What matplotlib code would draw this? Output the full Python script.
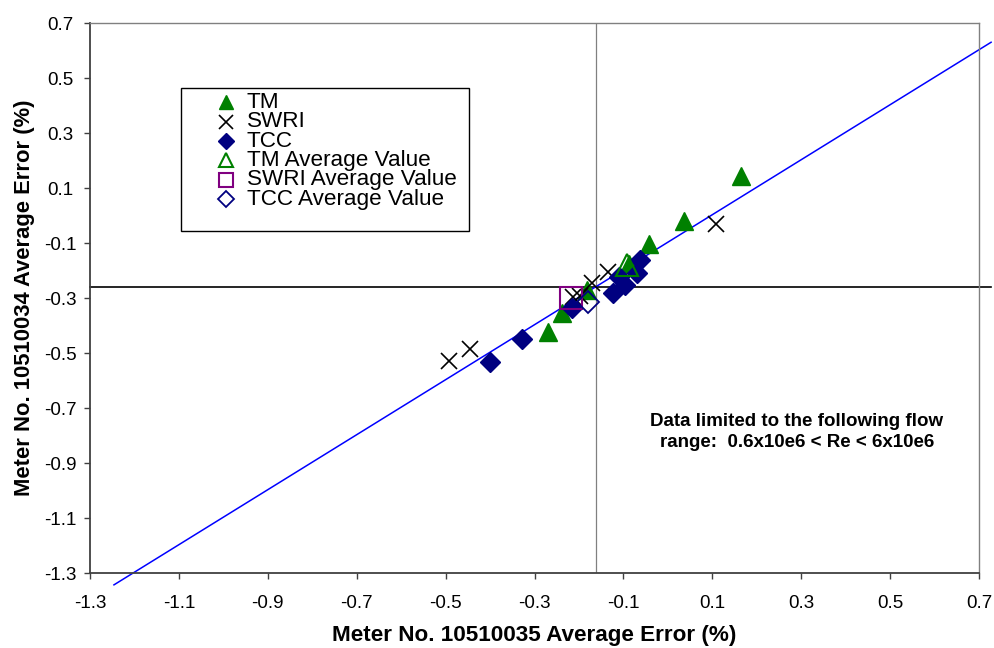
import matplotlib.pyplot as plt
from matplotlib.patches import Rectangle

plt.rcParams['font.family'] = ['Liberation Sans', 'DejaVu Sans']

# meter 10510035 error (x) vs meter 10510034 error (y), percent
tm_x = [0.165, 0.036, -0.042, -0.088, -0.182, -0.238, -0.270]
tm_y = [0.144, -0.020, -0.104, -0.175, -0.271, -0.355, -0.424]

swri_x = [0.108, -0.445, -0.492, -0.135, -0.171, -0.213, -0.198]
swri_y = [-0.031, -0.485, -0.529, -0.205, -0.245, -0.296, -0.293]

tcc_x = [-0.400, -0.328, -0.216, -0.123, -0.096, -0.110, -0.063, -0.069]
tcc_y = [-0.533, -0.449, -0.336, -0.282, -0.253, -0.224, -0.162, -0.209]

tm_avg = (-0.092, -0.180)
swri_avg = (-0.218, -0.300)
tcc_avg = (-0.180, -0.315)

# reference lines: overall means and linear trend y = slope*x + intercept
mean_x = -0.162
mean_y = -0.26
trend_slope = 1.0
trend_intercept = -0.097
trend_range = [-1.246, 0.727]

ticks = [-1.3, -1.1, -0.9, -0.7, -0.5, -0.3, -0.1, 0.1, 0.3, 0.5, 0.7]
legend_labels = ['TM', 'SWRI', 'TCC', 'TM Average Value', 'SWRI Average Value', 'TCC Average Value']

fig = plt.figure(figsize=(9.94, 6.48), dpi=100)
ax = fig.add_axes([0.0905, 0.1157, 0.8945, 0.8488])
ax.set_xlim(-1.3, 0.7)
ax.set_ylim(-1.3, 0.7)

ax.axvline(mean_x, color='#808080', lw=0.9, zorder=1)
ax.plot([-1.3, 0.727], [mean_y, mean_y], color='black', lw=1.2, clip_on=False, zorder=1)
ax.plot(trend_range, [trend_slope * v + trend_intercept for v in trend_range],
        color='#0000ff', lw=1.1, clip_on=False, zorder=2)

tm_style = dict(ls='none', marker='^', color='#008000', mec='#008000')
sw_style = dict(ls='none', marker='x', color='black', mew=1.2)
tc_style = dict(ls='none', marker='D', color='#000080')
tma_style = dict(ls='none', marker='^', mfc='none', mec='#008000', mew=1.5)
swa_style = dict(ls='none', marker='s', mfc='none', mec='#800080', mew=1.5)
tca_style = dict(ls='none', marker='D', mfc='none', mec='#000080', mew=1.3)

ax.plot(tm_x, tm_y, ms=12.5, zorder=3, **tm_style)
ax.plot(swri_x, swri_y, ms=12, zorder=3, **sw_style)
ax.plot(tcc_x, tcc_y, ms=10, zorder=3, **tc_style)
ax.plot(*tm_avg, ms=16, zorder=4, **tma_style)
ax.plot(*swri_avg, ms=16, zorder=4, **swa_style)
ax.plot(*tcc_avg, ms=11, zorder=4, **tca_style)

ax.set_xticks(ticks)
ax.set_yticks(ticks)
ax.set_xticklabels([f'{t:g}' for t in ticks])
ax.set_yticklabels([f'{t:g}' for t in ticks])
ax.tick_params(direction='out', length=4, width=1, labelsize=13.5, color='#404040')
ax.tick_params(axis='x', pad=12)
ax.tick_params(axis='y', pad=17)
for lab in ax.get_yticklabels():
    lab.set_horizontalalignment('center')

for side in ('left', 'bottom'):
    ax.spines[side].set_color('#404040')
    ax.spines[side].set_linewidth(1.3)
for side in ('top', 'right'):
    ax.spines[side].set_color('#808080')
    ax.spines[side].set_linewidth(1.0)

ax.set_xlabel('Meter No. 10510035 Average Error (%)', fontsize=16.2, fontweight='bold', labelpad=9)
ax.set_ylabel('Meter No. 10510034 Average Error (%)', fontsize=15.8, fontweight='bold', labelpad=7)

# legend drawn by hand: tightly stacked rows inside a plain box
ax.add_patch(Rectangle((0.1024, 0.6218), 0.324, 0.2600, transform=ax.transAxes,
                       fill=False, ec='black', lw=1.0, zorder=5))
legend_styles = [(tm_style, 10), (sw_style, 10), (tc_style, 8), (tma_style, 10.5), (swa_style, 10.5), (tca_style, 8)]
for i, (label, (style, size)) in enumerate(zip(legend_labels, legend_styles)):
    yy = 0.8560 - i * 0.0353
    ax.plot([0.153], [yy], transform=ax.transAxes, ms=size, clip_on=False, zorder=6, **style)
    ax.text(0.1766, yy, label, transform=ax.transAxes, fontsize=16.2, ha='left', va='center', zorder=6)

ax.text(0.29, -0.787, 'Data limited to the following flow\nrange:  0.6x10e6 < Re < 6x10e6',
        ha='center', va='center', fontsize=13.5, fontweight='bold', linespacing=1.25)

fig.savefig('out.png', dpi=100)
